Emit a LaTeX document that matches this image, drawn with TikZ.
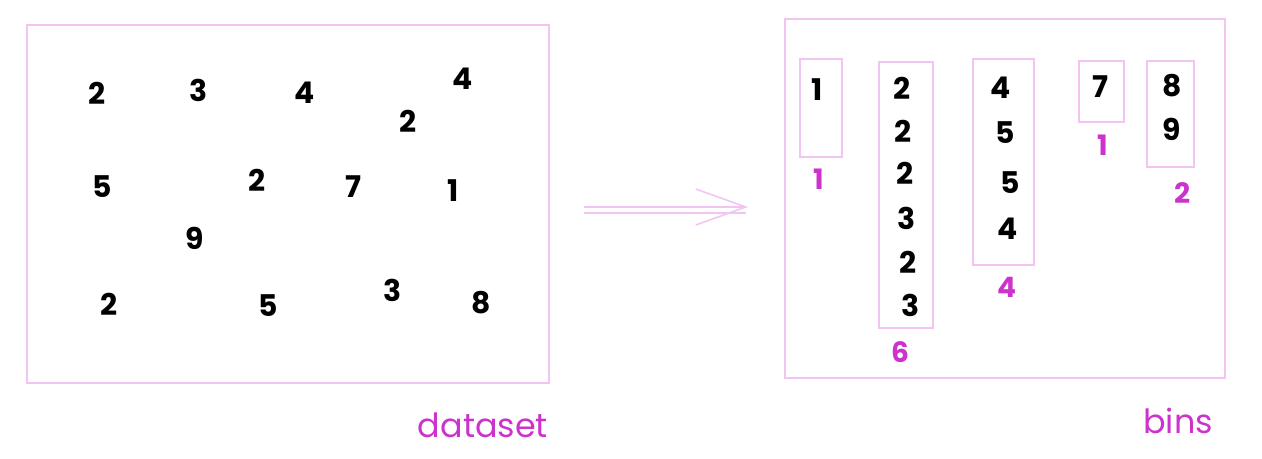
\documentclass[tikz,border=0pt]{standalone}
\usepackage{fontspec}
\setmainfont{Poppins}
\usetikzlibrary{arrows.meta}
\definecolor{sketchpink}{HTML}{F2C4F2}
\definecolor{labelpink}{HTML}{CC33CC}
\begin{document}
\begin{tikzpicture}[x=0.02cm, y=-0.02cm,
	box/.style={draw=sketchpink, line width=1.1pt, rectangle},
	digit/.style={font=\fontsize{17}{19}\selectfont\bfseries, text=black, inner sep=0pt},
	count/.style={font=\fontsize{16}{18}\selectfont\bfseries, text=labelpink, inner sep=0pt},
	caption/.style={font=\fontsize{19}{21}\selectfont, text=labelpink, inner sep=0pt},
	flow/.style={draw=sketchpink, line width=0.9pt}]
			
			\useasboundingbox (0,0) rectangle (1262,459);
			
			%Dataset block
			\node (dataset) at (288,204) [box, minimum height=7.16cm, minimum width=10.44cm]{};
			\node (dataset label) at (483,425) [caption]{dataset};
			
			%Writing in the box
			\node (d1) at (97,93) [digit]{2};
			\node (d2) at (199,90) [digit]{3};
			\node (d3) at (305,93) [digit]{4};
			\node (d4) at (463,79) [digit]{4};
			\node (d5) at (408,121) [digit]{2};
			\node (d6) at (102,187) [digit]{5};
			\node (d7) at (257,180) [digit]{2};
			\node (d8) at (353,187) [digit]{7};
			\node (d9) at (453,191) [digit]{1};
			\node (d10) at (195,238) [digit]{9};
			\node (d11) at (109,304) [digit]{2};
			\node (d12) at (268,306) [digit]{5};
			\node (d13) at (393,290) [digit]{3};
			\node (d14) at (481,303) [digit]{8};
			
			%Bins block
			\node (bins) at (1005,198.5) [box, minimum height=7.18cm, minimum width=8.8cm]{};
			\node (bins label) at (1178,421) [caption]{bins};
			
			%First bin
			\node (bin one) at (821,108) [box, line width=0.7pt, minimum height=1.96cm, minimum width=0.84cm]{};
			\node (b1a) at (817,90) [digit]{1};
			\node (c1) at (819,179) [count]{1};
			
			%Second bin
			\node (bin two) at (906,195) [box, line width=0.7pt, minimum height=5.32cm, minimum width=1.08cm]{};
			\node (b2a) at (902,88) [digit]{2};
			\node (b2b) at (903,131) [digit]{2};
			\node (b2c) at (905,173) [digit]{2};
			\node (b2d) at (907,218) [digit]{3};
			\node (b2e) at (908,262) [digit]{2};
			\node (b2f) at (911,305) [digit]{3};
			\node (c2) at (900,352) [count]{6};
			
			%Third bin
			\node (bin three) at (1003.5,162) [box, line width=0.7pt, minimum height=4.12cm, minimum width=1.22cm]{};
			\node (b3a) at (1001,88) [digit]{4};
			\node (b3b) at (1005,133) [digit]{5};
			\node (b3c) at (1010,183) [digit]{5};
			\node (b3d) at (1008,229) [digit]{4};
			\node (c3) at (1007,287) [count]{4};
			
			%Fourth bin
			\node (bin four) at (1101.5,91.5) [box, line width=0.7pt, minimum height=1.22cm, minimum width=0.9cm]{};
			\node (b4a) at (1100,87) [digit]{7};
			\node (c4) at (1103,145) [count]{1};
			
			%Fifth bin
			\node (bin five) at (1170.5,114) [box, line width=0.7pt, minimum height=2.12cm, minimum width=0.94cm]{};
			\node (b5a) at (1172,86) [digit]{8};
			\node (b5b) at (1172,129) [digit]{9};
			\node (c5) at (1183,193) [count]{2};
			
			%Arrow between the blocks
			\coordinate (arrow row) at (0,207);
			\draw[flow, shorten <=0.68cm, shorten >=0.72cm, -{Straight Barb[length=1.0cm, width=0.72cm]}]
				(dataset.east |- arrow row) -- (bins.west |- arrow row);
			\draw[flow, shorten <=0.68cm, shorten >=0.76cm]
				([yshift=-3.5pt]dataset.east |- arrow row) -- ([yshift=-3.5pt]bins.west |- arrow row);
			
\end{tikzpicture}
\end{document}
